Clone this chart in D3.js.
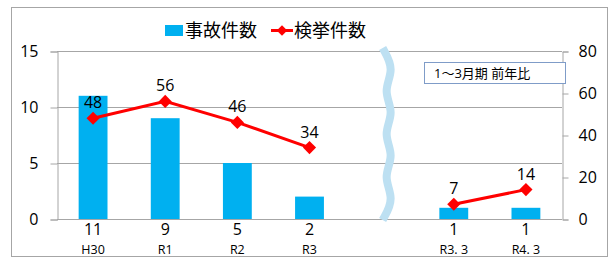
<!DOCTYPE html>
<html>
<head>
<meta charset="utf-8">
<script src="https://cdn.jsdelivr.net/npm/d3@7"></script>
<style>
  body { margin: 0; background: #fff; }
  text { font-family: "Open Sans", "Noto Sans CJK JP", sans-serif; }
</style>
</head>
<body>
<div id="chart"></div>
<script>
const categories = ['H30', 'R1', 'R2', 'R3', '', 'R3. 3', 'R4. 3'];
const accidents = [11, 9, 5, 2, null, 1, 1];
const arrests = [48, 56, 46, 34, null, 7, 14];
const leftTicks = [0, 5, 10, 15];
const rightTicks = [0, 20, 40, 60, 80];

const width = 615, height = 259;
const margin = {top: 51, right: 53, bottom: 40, left: 57};

const svg = d3.select('#chart').append('svg')
    .attr('width', width)
    .attr('height', height);

// outer frame
svg.append('rect')
    .attr('x', 11.5).attr('y', 7.5)
    .attr('width', 596).attr('height', 249)
    .attr('fill', 'none').attr('stroke', '#a6a6a6');

const x = d3.scaleBand()
    .domain(d3.range(categories.length))
    .range([margin.left, width - margin.right])
    .paddingInner(0.6).paddingOuter(0.3);

const yL = d3.scaleLinear().domain([0, 15]).range([height - margin.bottom, margin.top]);
const yR = d3.scaleLinear().domain([0, 80]).range([height - margin.bottom, margin.top]);

// gridlines
svg.append('g')
  .selectAll('line')
  .data(leftTicks.slice(1)).enter().append('line')
    .attr('x1', margin.left).attr('x2', width - margin.right)
    .attr('y1', (d) => Math.round(yL(d)) + 0.5).attr('y2', (d) => Math.round(yL(d)) + 0.5)
    .attr('stroke', '#a6a6a6');

// left axis
const axL = svg.append('g')
    .attr('transform', 'translate(' + (margin.left + 0.5) + ',0.5)')
    .call(d3.axisLeft(yL).tickValues(leftTicks).tickSize(7).tickPadding(12));
axL.selectAll('text').style('font-size', '16px').attr('fill', '#000');
axL.selectAll('line, path').attr('stroke', '#a6a6a6');

// right axis
const axR = svg.append('g')
    .attr('transform', 'translate(' + (width - margin.right + 0.5) + ',0.5)')
    .call(d3.axisRight(yR).tickValues(rightTicks).tickSize(6).tickPadding(10));
axR.selectAll('text').style('font-size', '16px').attr('fill', '#000');
axR.selectAll('line, path').attr('stroke', '#a6a6a6');

// baseline
svg.append('line')
    .attr('x1', margin.left).attr('x2', width - margin.right)
    .attr('y1', yL(0) + 0.5).attr('y2', yL(0) + 0.5)
    .attr('stroke', '#a6a6a6');

// break mark
const wave = d3.line().curve(d3.curveBasis);
const bx = x(4) + x.bandwidth() / 2 + 7;
const wavePts = d3.range(0, 9).map((i) => [bx + (i % 2 ? 6 : -6), 48 + i * 21.5]);
svg.append('path')
    .attr('d', wave(wavePts))
    .attr('fill', 'none')
    .attr('stroke', '#bde0f2')
    .attr('stroke-width', 8);

// bars
const barData = accidents.map((v, i) => ({i, v})).filter((d) => d.v !== null);
svg.selectAll('rect.bar')
  .data(barData).enter().append('rect')
    .attr('class', 'bar')
    .attr('x', (d) => x(d.i))
    .attr('y', (d) => yL(d.v))
    .attr('width', x.bandwidth())
    .attr('height', (d) => yL(0) - yL(d.v))
    .attr('fill', '#00b0f0');

svg.selectAll('text.barval')
  .data(barData).enter().append('text')
    .attr('class', 'barval')
    .attr('x', (d) => x(d.i) + x.bandwidth() / 2)
    .attr('y', yL(0) + 16)
    .attr('text-anchor', 'middle')
    .style('font-size', '16px')
    .text((d) => d.v);

// category labels
svg.selectAll('text.cat')
  .data(categories).enter().append('text')
    .attr('class', 'cat')
    .attr('x', (d, i) => x(i) + x.bandwidth() / 2)
    .attr('y', yL(0) + 35)
    .attr('text-anchor', 'middle')
    .style('font-size', '12.5px')
    .text((d) => d);

// line segments
const pts = arrests.map((v, i) => ({i, v})).filter((d) => d.v !== null);
const line = d3.line()
    .defined((d) => d.v !== null)
    .x((d) => x(d.i) + x.bandwidth() / 2)
    .y((d) => yR(d.v));
svg.append('path')
    .datum(arrests.map((v, i) => ({i, v})))
    .attr('d', line)
    .attr('fill', 'none')
    .attr('stroke', '#ff0000')
    .attr('stroke-width', 3);

const diamond = d3.symbol().type(d3.symbolDiamond2).size(110);
svg.selectAll('path.marker')
  .data(pts).enter().append('path')
    .attr('class', 'marker')
    .attr('transform', (d) => 'translate(' + (x(d.i) + x.bandwidth() / 2) + ',' + yR(d.v) + ')')
    .attr('d', diamond)
    .attr('fill', '#ff0000');

svg.selectAll('text.lineval')
  .data(pts).enter().append('text')
    .attr('class', 'lineval')
    .attr('x', (d) => x(d.i) + x.bandwidth() / 2)
    .attr('y', (d) => yR(d.v) - 10)
    .attr('text-anchor', 'middle')
    .style('font-size', '16px')
    .text((d) => d.v);

// note box
svg.append('rect')
    .attr('x', 424.5).attr('y', 62.5)
    .attr('width', 141).attr('height', 21)
    .attr('fill', '#fff').attr('stroke', '#7f9cc8');
svg.append('text')
    .attr('x', 434).attr('y', 78)
    .style('font-size', '13px')
    .text('1～3月期 前年比');

// legend
const lg = svg.append('g');
lg.append('rect')
    .attr('x', 165).attr('y', 25).attr('width', 18).attr('height', 11)
    .attr('fill', '#00b0f0');
lg.append('text')
    .attr('x', 185).attr('y', 37)
    .style('font-size', '18px')
    .text('事故件数');
lg.append('line')
    .attr('x1', 271).attr('x2', 293).attr('y1', 30.5).attr('y2', 30.5)
    .attr('stroke', '#ff0000').attr('stroke-width', 3);
lg.append('path')
    .attr('transform', 'translate(282,30.5)')
    .attr('d', d3.symbol().type(d3.symbolDiamond2).size(70))
    .attr('fill', '#ff0000');
lg.append('text')
    .attr('x', 294).attr('y', 37)
    .style('font-size', '18px')
    .text('検挙件数');
</script>
</body>
</html>
